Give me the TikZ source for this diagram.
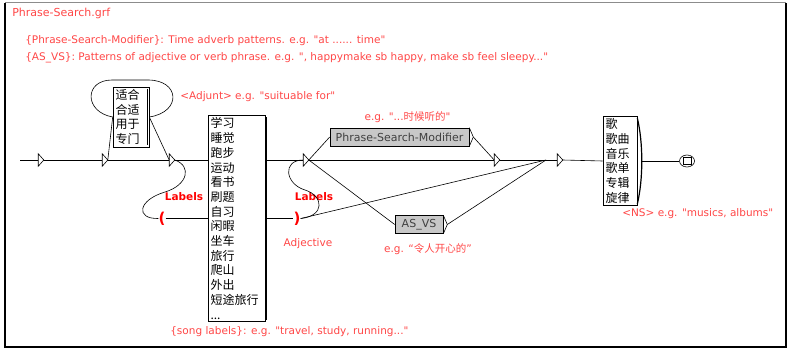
\documentclass[tikz,border=0pt]{standalone}
\usepackage{fontspec}
\setmainfont{DejaVu Sans}[Ligatures=TeXOff]
\newfontfamily\cjk{Noto Sans CJK SC}
\usepackage{tikz}
\usetikzlibrary{positioning}
\usetikzlibrary{shapes.geometric}
\usetikzlibrary{backgrounds}
\definecolor{grfRed}{RGB}{255,70,70}
\definecolor{boxGray}{RGB}{200,200,200}

\begin{document}
\begin{tikzpicture}[x=1pt, y=1pt, line width=0.6pt,
    stateTri/.style={rectangle, inner sep=0pt, minimum width=5pt, minimum height=12pt},
    wordBox/.style={rectangle, draw, fill=white, inner sep=2.5pt, align=left, font=\cjk\fontsize{12}{14.7}\selectfont},
    graphBox/.style={rectangle, draw, fill=boxGray, inner sep=0pt, minimum height=18pt, text=black!75, font=\fontsize{11}{13}\selectfont},
    note/.style={text=grfRed, inner sep=0pt, font=\fontsize{10.5}{12}\selectfont},
    varMark/.style={text=red, inner sep=0pt, font=\bfseries\fontsize{15}{15}\selectfont},
    varName/.style={text=red, inner sep=0pt, font=\bfseries\fontsize{10.5}{12}\selectfont}]
      \useasboundingbox (0,0) rectangle (787,-348);
      \draw[black!45, line width=0.8pt] (5,-2.5) -- (786,-2.5);
      \draw[line width=2pt] (5,-2.5) -- (5,-346.5) -- (786,-346.5) -- (786,-2.5);

      \node[note, anchor=west, font=\fontsize{11}{13}\selectfont] (grfName) at (12,-13) {Phrase-Search.grf};
      \node[note, anchor=west] (psmNote) at (25,-41) {\{Phrase-Search-Modifier\}: Time adverb patterns. e.g. "at ...... time"};
      \node[note, anchor=west] (asvsNote) at (25,-58) {\{AS\_VS\}: Patterns of adjective or verb phrase. e.g. ", happymake sb happy, make sb feel sleepy..."};

      \coordinate (start) at (20,-160);
      \node[stateTri] (t1) at (41,-160) {};
      \node[stateTri] (t2) at (105,-160) {};
      \node[wordBox, text width=31pt] (adjBox) at (131,-117) {适合\\合适\\用于\\专门};
      \node[note, anchor=west] (adjNote) at (180,-97) {<Adjunt> e.g. "suituable for"};
      \node[stateTri] (t3) at (172,-160) {};
      \node[wordBox, text width=52pt] (songBox) at (236.5,-218.5) {学习\\睡觉\\跑步\\运动\\看书\\刷题\\自习\\闲暇\\坐车\\旅行\\爬山\\外出\\短途旅行\\...};
      \node[note, anchor=west] (songNote) at (170,-332) {\{song labels\}: e.g. "travel, study, running..."};
      \node[varMark] (openPar) at (162,-218.5) {(};
      \node[varName] (openName) at (184,-197) {Labels};
      \node[varMark] (closePar) at (297,-218.5) {)};
      \node[varName] (closeName) at (314,-197) {Labels};
      \node[note] (adjective) at (308,-244) {Adjective};
      \node[stateTri] (t4) at (306,-160) {};
      \node[graphBox, minimum width=139pt] (psmBox) at (399.5,-137) {Phrase-Search-Modifier};
      \coordinate (psmOut) at ([xshift=4pt]psmBox.east);
      \node[note, above=5pt of psmBox, xshift=8pt] (psmEg) {e.g. "...{\cjk 时候听的}"};
      \node[graphBox, minimum width=48pt] (asvsBox) at (419,-224.5) {AS\_VS};
      \coordinate (asvsOut) at ([xshift=4pt]asvsBox.east);
      \node[note, below=10pt of asvsBox, xshift=9pt] (asvsEg) {e.g. “{\cjk 令人开心的}”};
      \node[stateTri] (t5) at (497,-160) {};
      \coordinate (tJoin) at (546,-160);
      \node[stateTri] (t6) at (560,-160) {};
      \node[wordBox, text width=29pt] (nsBox) at (620,-161) {歌\\歌曲\\音乐\\歌单\\专辑\\旋律};
      \coordinate (nsOut) at ([xshift=4pt]nsBox.east);
      \node[note, anchor=west] (nsNote) at (622,-214) {<NS> e.g. "musics, albums"};
      \node[ellipse, draw, minimum width=15pt, minimum height=12pt, inner sep=0pt] (final) at (687,-161) {};
      \draw (final.center) +(-4,-3.5) rectangle +(4,3.5);

      \foreach \t in {t1,t2,t3,t4,t5,t6}
        \draw[fill=white] (\t.south west) -- (\t.east) -- (\t.north west) -- cycle;
      \draw[line width=1.2pt] ([shift={(-2pt,-2pt)}]adjBox.north east) -- ([shift={(-2pt,2pt)}]adjBox.south east);
      \draw[line width=1.2pt] ([shift={(1.5pt,-2pt)}]songBox.north east) -- ([shift={(1.5pt,2pt)}]songBox.south east);
      \draw[line width=1.2pt] ([yshift=-2pt]nsBox.north east) .. controls +(6,-25) and +(6,25) .. ([yshift=2pt]nsBox.south east);
      \draw (psmBox.north east) -- (psmOut) -- (psmBox.south east);
      \draw (asvsBox.north east) -- (asvsOut) -- (asvsBox.south east);

      \begin{scope}[on background layer]
        \draw (t3.east) -- (t4.west);
      \end{scope}
      \draw (start) -- (t1.west);
      \draw (t1.east) -- (t2.west);
      \draw (t2.east) -- (t3.west);
      \draw (t2.east) -- (adjBox.west);
      \draw (adjBox.east) -- (t3.west);
      \draw (adjBox.east) .. controls (182,-112) and (180,-80) .. (148,-80) -- (112,-80) .. controls (84,-80) and (84,-112) .. (adjBox.west);
      \draw (t3.east) .. controls (192,-166) and (188,-185) .. (165,-192) .. controls (138,-200) and (135,-219) .. (openPar.west);
      \draw (openPar.east) -- (songBox.west);
      \draw (songBox.east) -- (closePar.west);
      \draw (closePar.east) .. controls (325,-216) and (324,-196) .. (305,-190) .. controls (285,-184) and (282,-160) .. (t4.west);
      \draw (closePar.east) -- (tJoin);
      \draw (t4.east) -- (psmBox.west);
      \draw (t4.east) -- (asvsBox.west);
      \draw (t4.east) -- (t5.west);
      \draw (psmOut) -- (t5.west);
      \draw (asvsOut) -- (tJoin);
      \draw (t5.east) -- (tJoin);
      \draw (tJoin) -- (t6.west);
      \draw (t6.east) -- (nsBox.west);
      \draw (nsOut) -- (final.west);
    \end{tikzpicture}
\end{document}
